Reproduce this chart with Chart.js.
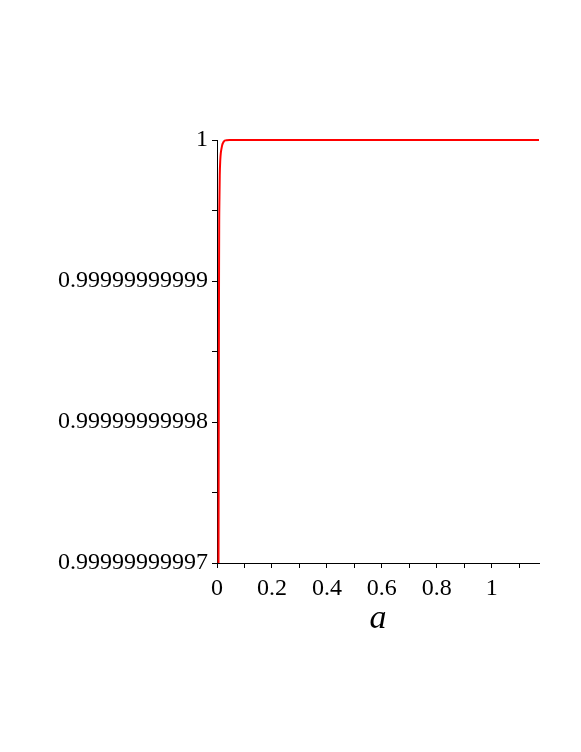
<!DOCTYPE html>
<html>
<head>
<meta charset="utf-8">
<script src="https://cdn.jsdelivr.net/npm/chart.js@4/dist/chart.umd.min.js"></script>
<style>
  html, body { margin: 0; padding: 0; background: #fff; }
  canvas { display: block; }
</style>
</head>
<body>
<canvas id="plot" width="581" height="752"></canvas>
<script>
// curve
const aValues = [0.005, 0.0055, 0.006, 0.0065, 0.007, 0.0075, 0.008, 0.009, 0.010, 0.012,
                 0.014, 0.016, 0.019, 0.022, 0.026, 0.030, 0.035, 0.045, 1.172];
const fValues = [0.999999999965, 0.99999999997, 0.999999999976, 0.999999999982, 0.999999999987,
                 0.999999999991, 0.999999999994, 0.999999999996, 0.9999999999975, 0.9999999999986,
                 0.9999999999991, 0.99999999999935, 0.99999999999965, 0.9999999999998, 0.99999999999992,
                 0.99999999999997, 0.99999999999999, 1, 1];

const xTicks = [0, 0.1, 0.2, 0.3, 0.4, 0.5, 0.6, 0.7, 0.8, 0.9, 1, 1.1];
const xTickLabels = ['0', '', '0.2', '', '0.4', '', '0.6', '', '0.8', '', '1', ''];
const yTicks = [0.99999999997, 0.999999999975, 0.99999999998, 0.999999999985,
                0.99999999999, 0.999999999995, 1];
const yTickLabels = ['0.99999999997', '', '0.99999999998', '', '0.99999999999', '', '1'];

const points = aValues.map((a, i) => ({ x: a, y: fValues[i] }));

const serif = { family: '"Liberation Serif", "Times New Roman", serif', size: 24 };

new Chart(document.getElementById('plot'), {
    type: 'line',
    data: {
        datasets: [{
            data: points,
            borderColor: 'rgb(255, 0, 0)',
            borderWidth: 2,
            pointRadius: 0,
            cubicInterpolationMode: 'monotone',
            clip: { left: 0, top: 4, right: 4, bottom: 0 }
        }]
    },
    options: {
        responsive: false,
        animation: false,
        devicePixelRatio: 1,
        layout: { padding: { top: 140, right: 42, left: 0, bottom: 0 } },
        plugins: { legend: { display: false }, tooltip: { enabled: false } },
        scales: {
            x: {
                type: 'linear',
                min: 0,
                max: 1.172,
                afterBuildTicks: s => { s.ticks = xTicks.map(v => ({ value: v })); },
                afterFit: s => { s.height = 189; },
                ticks: {
                    autoSkip: false,
                    maxRotation: 0,
                    padding: 6,
                    color: '#000',
                    font: serif,
                    callback: (v, i) => xTickLabels[i]
                },
                grid: { drawOnChartArea: false, drawTicks: true, tickLength: 5, tickColor: '#000' },
                border: { display: true, color: '#000', width: 1 },
                title: {
                    display: true,
                    text: 'a',
                    color: '#000',
                    font: { family: '"Liberation Serif", "Times New Roman", serif', size: 34, style: 'italic' },
                    padding: { top: 0, bottom: 113 }
                }
            },
            y: {
                type: 'linear',
                min: 0.99999999997,
                max: 1,
                afterBuildTicks: s => { s.ticks = yTicks.map(v => ({ value: v })); },
                afterFit: s => { s.width = 217; },
                ticks: {
                    autoSkip: false,
                    padding: 4,
                    color: '#000',
                    font: serif,
                    callback: (v, i) => yTickLabels[i]
                },
                grid: { drawOnChartArea: false, drawTicks: true, tickLength: 5, tickColor: '#000' },
                border: { display: true, color: '#000', width: 1 }
            }
        }
    }
});
</script>
</body>
</html>
